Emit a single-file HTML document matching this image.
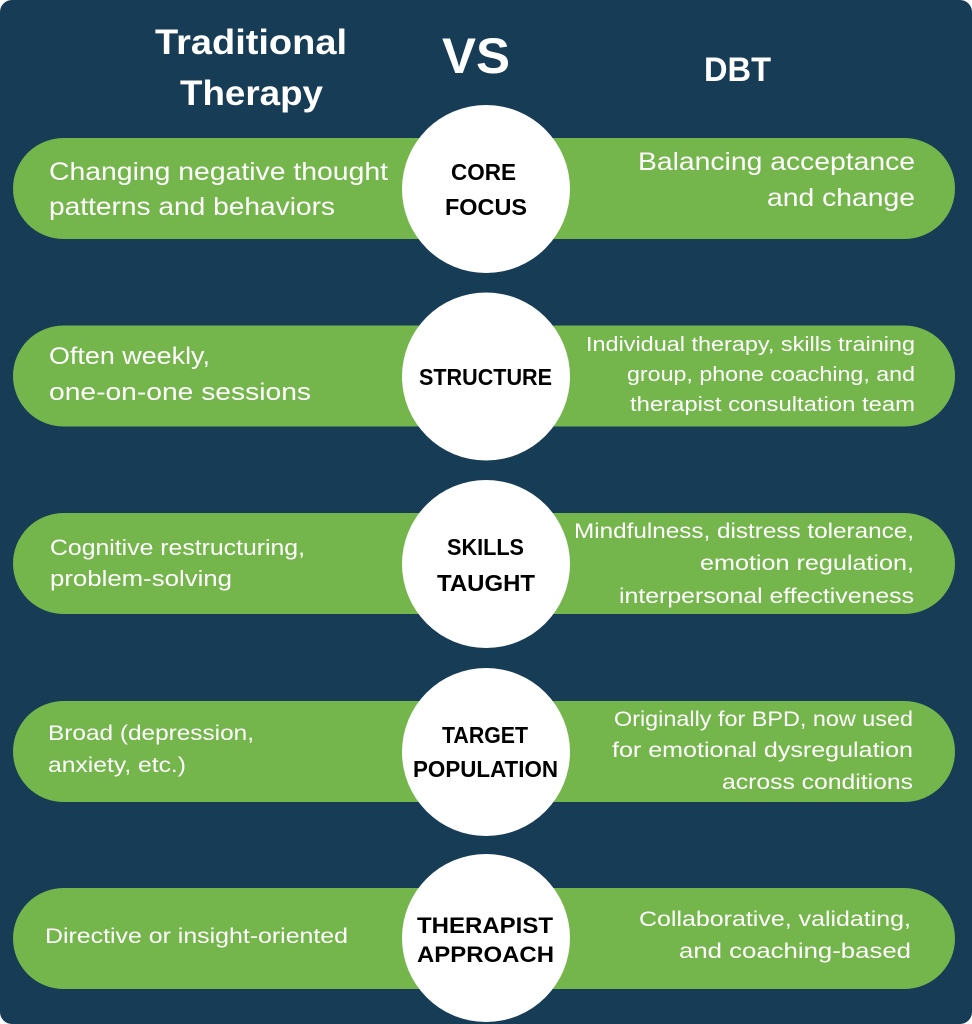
<!DOCTYPE html>
<html><head><meta charset="utf-8"><style>
html,body{margin:0;padding:0;background:#fff;}
svg{display:block;}
text{font-family:"Liberation Sans",sans-serif;}
.w{fill:#fff;}
.b{fill:#000;font-weight:700;}
</style></head><body>
<svg width="972" height="1024" viewBox="0 0 972 1024" xmlns="http://www.w3.org/2000/svg">
<rect x="0" y="0" width="972" height="1024" rx="12" fill="#163c56"/>
<!-- headers -->
<text class="w" x="155" y="54" font-size="35" font-weight="700" textLength="192" lengthAdjust="spacingAndGlyphs">Traditional</text>
<text class="w" x="180" y="105" font-size="35" font-weight="700" textLength="143" lengthAdjust="spacingAndGlyphs">Therapy</text>
<text class="w" x="442" y="73" font-size="50" font-weight="700" textLength="68" lengthAdjust="spacingAndGlyphs">VS</text>
<text class="w" x="704" y="81" font-size="34" font-weight="700" textLength="67" lengthAdjust="spacingAndGlyphs">DBT</text>

<!-- bars -->
<g fill="#74b64c">
<rect x="13" y="138" width="942" height="101" rx="50.5"/>
<rect x="13" y="325.5" width="942" height="101" rx="50.5"/>
<rect x="13" y="513" width="942" height="101" rx="50.5"/>
<rect x="13" y="701" width="942" height="101" rx="50.5"/>
<rect x="13" y="888" width="942" height="101" rx="50.5"/>
</g>
<!-- circles -->
<g fill="#fff">
<circle cx="486" cy="189" r="84"/>
<circle cx="486" cy="376.5" r="84"/>
<circle cx="486" cy="564" r="84"/>
<circle cx="486" cy="752" r="84"/>
<circle cx="486" cy="938" r="84"/>
</g>

<!-- row 1 -->
<text class="w" x="49" y="180" font-size="25" textLength="339" lengthAdjust="spacingAndGlyphs">Changing negative thought</text>
<text class="w" x="49" y="215" font-size="25" textLength="286" lengthAdjust="spacingAndGlyphs">patterns and behaviors</text>
<text class="b" x="451" y="180" font-size="23" textLength="65" lengthAdjust="spacingAndGlyphs">CORE</text>
<text class="b" x="445" y="215" font-size="23" textLength="82" lengthAdjust="spacingAndGlyphs">FOCUS</text>
<text class="w" x="638" y="170" font-size="25" textLength="277" lengthAdjust="spacingAndGlyphs">Balancing acceptance</text>
<text class="w" x="767" y="206" font-size="25" textLength="148" lengthAdjust="spacingAndGlyphs">and change</text>

<!-- row 2 -->
<text class="w" x="49" y="364" font-size="24" textLength="161" lengthAdjust="spacingAndGlyphs">Often weekly,</text>
<text class="w" x="49" y="400" font-size="24" textLength="262" lengthAdjust="spacingAndGlyphs">one-on-one sessions</text>
<text class="b" x="419" y="385" font-size="23" textLength="133" lengthAdjust="spacingAndGlyphs">STRUCTURE</text>
<text class="w" x="586" y="351" font-size="20" textLength="329" lengthAdjust="spacingAndGlyphs">Individual therapy, skills training</text>
<text class="w" x="627" y="381" font-size="20" textLength="288" lengthAdjust="spacingAndGlyphs">group, phone coaching, and</text>
<text class="w" x="630" y="411" font-size="20" textLength="285" lengthAdjust="spacingAndGlyphs">therapist consultation team</text>

<!-- row 3 -->
<text class="w" x="50" y="555" font-size="22" textLength="255" lengthAdjust="spacingAndGlyphs">Cognitive restructuring,</text>
<text class="w" x="50" y="586" font-size="22" textLength="182" lengthAdjust="spacingAndGlyphs">problem-solving</text>
<text class="b" x="447" y="555" font-size="23" textLength="77" lengthAdjust="spacingAndGlyphs">SKILLS</text>
<text class="b" x="437" y="591" font-size="23" textLength="98" lengthAdjust="spacingAndGlyphs">TAUGHT</text>
<text class="w" x="574" y="538" font-size="21" textLength="340" lengthAdjust="spacingAndGlyphs">Mindfulness, distress tolerance,</text>
<text class="w" x="700" y="570" font-size="21" textLength="214" lengthAdjust="spacingAndGlyphs">emotion regulation,</text>
<text class="w" x="619" y="603" font-size="21" textLength="295" lengthAdjust="spacingAndGlyphs">interpersonal effectiveness</text>

<!-- row 4 -->
<text class="w" x="48" y="740" font-size="21" textLength="206" lengthAdjust="spacingAndGlyphs">Broad (depression,</text>
<text class="w" x="48" y="772" font-size="21" textLength="138" lengthAdjust="spacingAndGlyphs">anxiety, etc.)</text>
<text class="b" x="442" y="743" font-size="23" textLength="86" lengthAdjust="spacingAndGlyphs">TARGET</text>
<text class="b" x="413" y="777" font-size="23" textLength="145" lengthAdjust="spacingAndGlyphs">POPULATION</text>
<text class="w" x="614" y="726" font-size="21" textLength="299" lengthAdjust="spacingAndGlyphs">Originally for BPD, now used</text>
<text class="w" x="612" y="757" font-size="21" textLength="301" lengthAdjust="spacingAndGlyphs">for emotional dysregulation</text>
<text class="w" x="722" y="789" font-size="21" textLength="191" lengthAdjust="spacingAndGlyphs">across conditions</text>

<!-- row 5 -->
<text class="w" x="45" y="943" font-size="21" textLength="303" lengthAdjust="spacingAndGlyphs">Directive or insight-oriented</text>
<text class="b" x="417" y="933" font-size="22" textLength="136" lengthAdjust="spacingAndGlyphs">THERAPIST</text>
<text class="b" x="417" y="962" font-size="22" textLength="137" lengthAdjust="spacingAndGlyphs">APPROACH</text>
<text class="w" x="639" y="926" font-size="21" textLength="272" lengthAdjust="spacingAndGlyphs">Collaborative, validating,</text>
<text class="w" x="679" y="958" font-size="21" textLength="232" lengthAdjust="spacingAndGlyphs">and coaching-based</text>
</svg>
</body></html>
